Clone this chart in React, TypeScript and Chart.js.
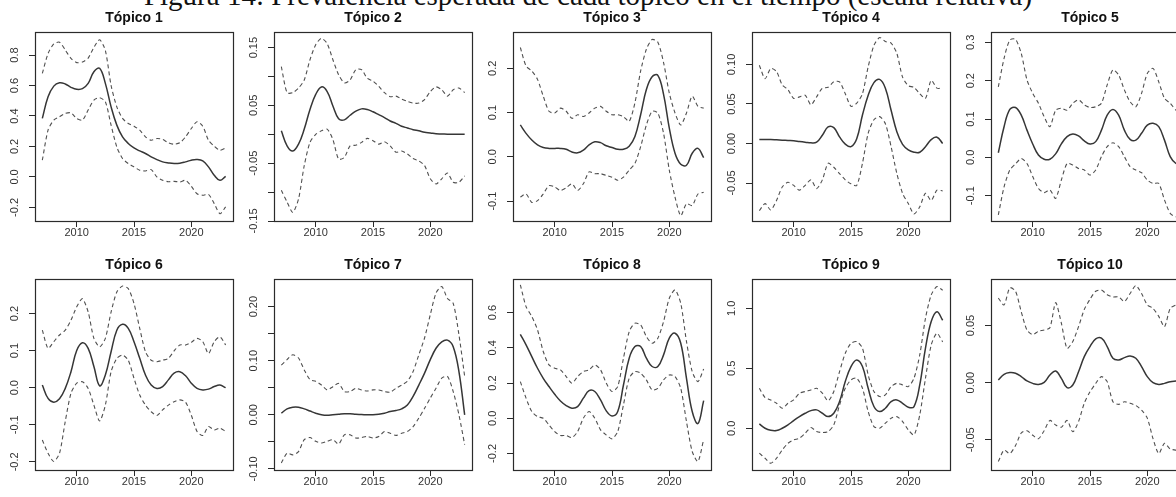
import React, { useEffect, useRef } from "react";
import { Chart, registerables } from "chart.js";

Chart.register(...registerables);

// Time grid shared by every topic (half-year steps)
const years = [
  2007, 2007.5, 2008, 2008.5, 2009, 2009.5, 2010, 2010.5, 2011, 2011.5, 2012,
  2012.5, 2013, 2013.5, 2014, 2014.5, 2015, 2015.5, 2016, 2016.5, 2017, 2017.5,
  2018, 2018.5, 2019, 2019.5, 2020, 2020.5, 2021, 2021.5, 2022, 2022.5, 2023,
];

// Expected prevalence (mean) and 95% interval per topic
const topic1Mean = [0.384, 0.526, 0.596, 0.618, 0.61, 0.588, 0.575, 0.579, 0.614, 0.69, 0.713, 0.614, 0.46, 0.34, 0.263, 0.22, 0.19, 0.171, 0.154, 0.132, 0.114, 0.099, 0.092, 0.088, 0.09, 0.099, 0.11, 0.114, 0.105, 0.066, 0.011, -0.022, 0.004];
const topic1Upper = [0.68, 0.81, 0.873, 0.884, 0.833, 0.778, 0.75, 0.754, 0.78, 0.85, 0.9, 0.83, 0.6, 0.46, 0.384, 0.351, 0.333, 0.307, 0.263, 0.241, 0.252, 0.246, 0.224, 0.215, 0.224, 0.263, 0.318, 0.362, 0.333, 0.241, 0.202, 0.175, 0.19];
const topic1Lower = [0.11, 0.307, 0.373, 0.395, 0.417, 0.421, 0.384, 0.373, 0.439, 0.504, 0.52, 0.493, 0.34, 0.197, 0.121, 0.088, 0.066, 0.044, 0.039, 0.048, 0.0, -0.022, -0.031, -0.029, -0.033, -0.022, -0.061, -0.11, -0.12, -0.114, -0.175, -0.241, -0.197];

const topic2Mean = [0.006, -0.02, -0.029, -0.017, 0.009, 0.043, 0.069, 0.082, 0.074, 0.049, 0.027, 0.025, 0.033, 0.04, 0.044, 0.043, 0.039, 0.034, 0.029, 0.023, 0.019, 0.014, 0.011, 0.008, 0.006, 0.0034, 0.0023, 0.001, 0.0006, 0.0, 0.0, 0.0, 0.0];
const topic2Upper = [0.117, 0.072, 0.072, 0.08, 0.094, 0.129, 0.155, 0.166, 0.157, 0.129, 0.103, 0.089, 0.094, 0.112, 0.112, 0.097, 0.092, 0.083, 0.072, 0.065, 0.066, 0.061, 0.057, 0.054, 0.054, 0.06, 0.074, 0.082, 0.077, 0.066, 0.077, 0.08, 0.072];
const topic2Lower = [-0.097, -0.117, -0.135, -0.112, -0.054, -0.014, 0.0, 0.006, 0.009, -0.009, -0.043, -0.04, -0.02, -0.019, -0.014, -0.007, -0.011, -0.017, -0.013, -0.02, -0.031, -0.029, -0.034, -0.042, -0.046, -0.054, -0.077, -0.086, -0.077, -0.067, -0.083, -0.083, -0.072];

const topic3Mean = [0.072, 0.053, 0.038, 0.027, 0.021, 0.019, 0.019, 0.019, 0.017, 0.011, 0.009, 0.015, 0.027, 0.034, 0.032, 0.025, 0.021, 0.017, 0.017, 0.024, 0.046, 0.095, 0.152, 0.181, 0.184, 0.141, 0.065, 0.008, -0.017, -0.019, 0.008, 0.019, -0.002];
const topic3Upper = [0.247, 0.205, 0.194, 0.175, 0.137, 0.103, 0.099, 0.11, 0.103, 0.087, 0.095, 0.091, 0.099, 0.11, 0.114, 0.103, 0.095, 0.095, 0.091, 0.08, 0.122, 0.194, 0.243, 0.265, 0.259, 0.213, 0.144, 0.099, 0.072, 0.099, 0.137, 0.114, 0.11];
const topic3Lower = [-0.091, -0.084, -0.103, -0.099, -0.084, -0.065, -0.068, -0.076, -0.07, -0.061, -0.076, -0.061, -0.034, -0.038, -0.038, -0.042, -0.046, -0.053, -0.046, -0.03, -0.015, 0.023, 0.072, 0.103, 0.099, 0.053, -0.03, -0.091, -0.133, -0.106, -0.11, -0.084, -0.08];

const topic4Mean = [0.005, 0.005, 0.005, 0.0046, 0.0042, 0.0038, 0.0034, 0.0025, 0.0017, 0.0008, 0.0017, 0.0105, 0.021, 0.02, 0.0084, -0.0008, -0.004, 0.006, 0.036, 0.061, 0.077, 0.081, 0.07, 0.042, 0.015, -0.001, -0.008, -0.011, -0.011, -0.004, 0.005, 0.008, 0.0];
const topic4Upper = [0.099, 0.082, 0.095, 0.091, 0.074, 0.068, 0.057, 0.059, 0.061, 0.049, 0.059, 0.07, 0.071, 0.078, 0.078, 0.063, 0.047, 0.051, 0.063, 0.097, 0.124, 0.134, 0.129, 0.127, 0.114, 0.084, 0.073, 0.071, 0.063, 0.057, 0.08, 0.07, 0.07];
const topic4Lower = [-0.085, -0.076, -0.084, -0.072, -0.055, -0.049, -0.053, -0.059, -0.053, -0.046, -0.057, -0.046, -0.025, -0.03, -0.038, -0.046, -0.051, -0.053, -0.025, 0.013, 0.03, 0.034, 0.025, -0.004, -0.038, -0.063, -0.076, -0.089, -0.08, -0.063, -0.072, -0.059, -0.06];

const topic5Mean = [0.012, 0.08, 0.125, 0.13, 0.11, 0.071, 0.035, 0.006, -0.005, -0.005, 0.009, 0.035, 0.054, 0.061, 0.056, 0.043, 0.035, 0.041, 0.071, 0.11, 0.125, 0.11, 0.071, 0.047, 0.045, 0.063, 0.084, 0.089, 0.08, 0.045, 0.002, -0.016, -0.02];
const topic5Upper = [0.184, 0.258, 0.306, 0.308, 0.271, 0.202, 0.167, 0.141, 0.106, 0.08, 0.123, 0.128, 0.123, 0.141, 0.15, 0.137, 0.13, 0.132, 0.141, 0.189, 0.228, 0.215, 0.176, 0.145, 0.132, 0.167, 0.219, 0.232, 0.197, 0.154, 0.141, 0.123, 0.11];
const topic5Lower = [-0.15, -0.077, -0.033, -0.017, -0.003, -0.016, -0.05, -0.081, -0.092, -0.085, -0.107, -0.059, -0.016, -0.02, -0.029, -0.033, -0.046, -0.033, 0.002, 0.028, 0.038, 0.028, 0.002, -0.024, -0.033, -0.04, -0.059, -0.068, -0.068, -0.111, -0.146, -0.155, -0.15];

const topic6Mean = [0.007, -0.029, -0.039, -0.03, -0.002, 0.043, 0.1, 0.121, 0.106, 0.057, 0.005, 0.034, 0.097, 0.155, 0.171, 0.16, 0.124, 0.079, 0.034, 0.007, -0.002, 0.003, 0.021, 0.039, 0.043, 0.032, 0.012, -0.002, -0.006, -0.004, 0.003, 0.007, 0.0];
const topic6Upper = [0.155, 0.106, 0.124, 0.142, 0.155, 0.182, 0.218, 0.24, 0.204, 0.133, 0.11, 0.133, 0.204, 0.258, 0.274, 0.267, 0.227, 0.16, 0.097, 0.074, 0.07, 0.074, 0.079, 0.099, 0.115, 0.115, 0.122, 0.133, 0.124, 0.092, 0.124, 0.137, 0.115];
const topic6Lower = [-0.141, -0.177, -0.199, -0.177, -0.091, -0.015, 0.012, 0.016, -0.002, -0.047, -0.09, -0.047, 0.043, 0.079, 0.088, 0.074, 0.025, -0.02, -0.047, -0.065, -0.075, -0.06, -0.047, -0.038, -0.033, -0.039, -0.074, -0.118, -0.129, -0.105, -0.114, -0.109, -0.118];

const topic7Mean = [0.003, 0.011, 0.014, 0.014, 0.011, 0.007, 0.003, 0.0, -0.001, 0.0, 0.001, 0.002, 0.002, 0.001, 0.0006, 0.0, 0.0, 0.001, 0.003, 0.006, 0.008, 0.011, 0.018, 0.034, 0.055, 0.077, 0.102, 0.123, 0.135, 0.138, 0.126, 0.08, 0.0];
const topic7Upper = [0.092, 0.102, 0.111, 0.105, 0.083, 0.065, 0.062, 0.055, 0.046, 0.052, 0.058, 0.043, 0.043, 0.049, 0.046, 0.044, 0.046, 0.046, 0.043, 0.042, 0.049, 0.055, 0.062, 0.08, 0.111, 0.142, 0.185, 0.225, 0.237, 0.215, 0.206, 0.148, 0.071];
const topic7Lower = [-0.089, -0.071, -0.074, -0.068, -0.046, -0.042, -0.049, -0.052, -0.049, -0.046, -0.054, -0.037, -0.037, -0.043, -0.042, -0.04, -0.043, -0.04, -0.031, -0.034, -0.038, -0.034, -0.031, -0.022, -0.006, 0.012, 0.031, 0.049, 0.068, 0.071, 0.043, 0.0, -0.055];

const topic8Mean = [0.477, 0.417, 0.35, 0.284, 0.227, 0.18, 0.136, 0.098, 0.072, 0.057, 0.066, 0.114, 0.157, 0.152, 0.104, 0.042, 0.013, 0.038, 0.189, 0.341, 0.407, 0.407, 0.341, 0.294, 0.294, 0.36, 0.455, 0.483, 0.426, 0.227, 0.038, -0.03, 0.1];
const topic8Upper = [0.758, 0.634, 0.578, 0.502, 0.379, 0.303, 0.284, 0.275, 0.237, 0.199, 0.237, 0.265, 0.275, 0.303, 0.275, 0.199, 0.152, 0.18, 0.341, 0.492, 0.54, 0.53, 0.464, 0.426, 0.455, 0.549, 0.682, 0.729, 0.653, 0.436, 0.265, 0.208, 0.28];
const topic8Lower = [0.208, 0.114, 0.038, 0.009, 0.0, -0.038, -0.076, -0.098, -0.098, -0.11, -0.076, 0.0, 0.038, 0.0, -0.066, -0.095, -0.117, -0.076, 0.076, 0.227, 0.265, 0.256, 0.218, 0.161, 0.17, 0.218, 0.246, 0.237, 0.17, -0.019, -0.189, -0.246, -0.12];

const topic9Mean = [0.036, 0.0, -0.017, -0.019, 0.0, 0.028, 0.064, 0.097, 0.125, 0.147, 0.153, 0.125, 0.097, 0.125, 0.222, 0.389, 0.514, 0.569, 0.514, 0.333, 0.181, 0.139, 0.167, 0.222, 0.236, 0.208, 0.175, 0.181, 0.361, 0.667, 0.889, 0.972, 0.9];
const topic9Upper = [0.333, 0.256, 0.236, 0.208, 0.167, 0.208, 0.236, 0.292, 0.306, 0.319, 0.333, 0.292, 0.228, 0.306, 0.472, 0.625, 0.708, 0.722, 0.667, 0.444, 0.306, 0.264, 0.278, 0.347, 0.375, 0.361, 0.347, 0.417, 0.611, 0.917, 1.111, 1.181, 1.15];
const topic9Lower = [-0.208, -0.25, -0.292, -0.25, -0.181, -0.125, -0.097, -0.083, -0.042, 0.006, -0.028, -0.036, -0.028, 0.028, 0.194, 0.333, 0.403, 0.417, 0.333, 0.139, 0.014, 0.0, 0.042, 0.083, 0.097, 0.056, -0.014, -0.056, 0.111, 0.417, 0.694, 0.792, 0.72];

const topic10Mean = [0.0023, 0.0073, 0.0088, 0.0082, 0.0053, 0.0015, -0.0006, -0.0015, 0.0003, 0.0067, 0.0102, 0.0038, -0.0044, -0.002, 0.0096, 0.0228, 0.0316, 0.0383, 0.0389, 0.0316, 0.0213, 0.0199, 0.0219, 0.0234, 0.0213, 0.014, 0.0053, 0.0, -0.0015, -0.0006, 0.0009, 0.0015, 0.002];
const topic10Upper = [0.074, 0.068, 0.083, 0.08, 0.062, 0.046, 0.042, 0.045, 0.046, 0.048, 0.07, 0.052, 0.03, 0.036, 0.049, 0.064, 0.073, 0.08, 0.081, 0.077, 0.075, 0.075, 0.071, 0.078, 0.085, 0.078, 0.068, 0.065, 0.058, 0.049, 0.065, 0.068, 0.07];
const topic10Lower = [-0.069, -0.059, -0.062, -0.055, -0.044, -0.042, -0.046, -0.049, -0.042, -0.033, -0.037, -0.039, -0.033, -0.043, -0.034, -0.018, -0.008, -0.0006, 0.0053, 0.0009, -0.0167, -0.019, -0.0167, -0.018, -0.02, -0.024, -0.031, -0.049, -0.062, -0.053, -0.058, -0.059, -0.06];

// Axis ranges and ticks
const topicTitles = ["Tópico 1", "Tópico 2", "Tópico 3", "Tópico 4", "Tópico 5", "Tópico 6", "Tópico 7", "Tópico 8", "Tópico 9", "Tópico 10"];
const xRange = [2006.36, 2023.64];
const xTicks = [2010, 2015, 2020];
const yMins = [-0.289, -0.15, -0.145, -0.098, -0.166, -0.222, -0.102, -0.294, -0.348, -0.0764];
const yMaxs = [0.951, 0.177, 0.282, 0.141, 0.327, 0.293, 0.251, 0.791, 1.244, 0.0907];

const yTicks1 = [-0.2, 0, 0.2, 0.4, 0.6, 0.8];
const yLabels1 = ["-0.2", "0.0", "0.2", "0.4", "0.6", "0.8"];
const yTicks2 = [-0.15, -0.1, -0.05, 0, 0.05, 0.1, 0.15];
const yLabels2 = ["-0.15", "", "-0.05", "", "0.05", "", "0.15"];
const yTicks3 = [-0.1, 0, 0.1, 0.2];
const yLabels3 = ["-0.1", "0.0", "0.1", "0.2"];
const yTicks4 = [-0.05, 0, 0.05, 0.1];
const yLabels4 = ["-0.05", "0.00", "0.05", "0.10"];
const yTicks5 = [-0.1, 0, 0.1, 0.2, 0.3];
const yLabels5 = ["-0.1", "0.0", "0.1", "0.2", "0.3"];
const yTicks6 = [-0.2, -0.1, 0, 0.1, 0.2];
const yLabels6 = ["-0.2", "-0.1", "0.0", "0.1", "0.2"];
const yTicks7 = [-0.1, -0.05, 0, 0.05, 0.1, 0.15, 0.2];
const yLabels7 = ["-0.10", "", "0.00", "", "0.10", "", "0.20"];
const yTicks8 = [-0.2, 0, 0.2, 0.4, 0.6];
const yLabels8 = ["-0.2", "0.0", "0.2", "0.4", "0.6"];
const yTicks9 = [0, 0.5, 1.0];
const yLabels9 = ["0.0", "0.5", "1.0"];
const yTicks10 = [-0.05, 0, 0.05];
const yLabels10 = ["-0.05", "0.00", "0.05"];

const meanSeries = [topic1Mean, topic2Mean, topic3Mean, topic4Mean, topic5Mean, topic6Mean, topic7Mean, topic8Mean, topic9Mean, topic10Mean];
const upperSeries = [topic1Upper, topic2Upper, topic3Upper, topic4Upper, topic5Upper, topic6Upper, topic7Upper, topic8Upper, topic9Upper, topic10Upper];
const lowerSeries = [topic1Lower, topic2Lower, topic3Lower, topic4Lower, topic5Lower, topic6Lower, topic7Lower, topic8Lower, topic9Lower, topic10Lower];
const yTickSets = [yTicks1, yTicks2, yTicks3, yTicks4, yTicks5, yTicks6, yTicks7, yTicks8, yTicks9, yTicks10];
const yLabelSets = [yLabels1, yLabels2, yLabels3, yLabels4, yLabels5, yLabels6, yLabels7, yLabels8, yLabels9, yLabels10];

const FONT = '"Liberation Sans", Arial, Helvetica, sans-serif';
const INK = "#2b2b2b";
const PANEL_W = 239;
const ROW_TOPS = [0, 248];
const ROW_HEIGHTS = [248, 249];
const TITLE_PADS = [
  { top: 9.6, bottom: 5.6 },
  { top: 9.1, bottom: 5.1 },
];
const Y_AXIS_W = 35;
const X_AXIS_H = 27;
const TICK_LEN = 6;
const Y_LABEL_OFFSET = 20;

// Closed frame around each plotting region
const frameBox = {
  id: "frameBox",
  afterDatasetsDraw(chart: any) {
    const { ctx, chartArea } = chart;
    const l = Math.round(chartArea.left) + 0.5;
    const t = Math.round(chartArea.top) + 0.5;
    const r = Math.round(chartArea.right) + 0.5;
    const b = Math.round(chartArea.bottom) + 0.5;
    ctx.save();
    ctx.strokeStyle = INK;
    ctx.lineWidth = 1.2;
    ctx.strokeRect(l, t, r - l, b - t);
    ctx.restore();
  },
};

const toPoints = (vals: number[]) => years.map((x, i) => ({ x, y: vals[i] }));

export default function App() {
  const refs = useRef<(HTMLCanvasElement | null)[]>([]);

  useEffect(() => {
    const measure = document.createElement("canvas").getContext("2d")!;
    measure.font = `11px ${FONT}`;
    const charts: Chart[] = [];

    topicTitles.forEach((title, i) => {
      const canvas = refs.current[i];
      if (!canvas) return;
      const row = i < 5 ? 0 : 1;
      const ticks = yTickSets[i];
      const labels = yLabelSets[i];
      const widest = Math.max(...labels.map((s) => measure.measureText(s).width));
      const yPad = Y_LABEL_OFFSET - TICK_LEN - widest / 2;

      const dashed = {
        borderColor: "#505050",
        borderWidth: 1.1,
        borderDash: [4, 3],
        pointRadius: 0,
        tension: 0.25,
        fill: false,
      };

      const chart = new Chart(canvas, {
        type: "line",
        data: {
          datasets: [
            { ...dashed, data: toPoints(upperSeries[i]) },
            { ...dashed, data: toPoints(lowerSeries[i]) },
            {
              data: toPoints(meanSeries[i]),
              borderColor: "#363636",
              borderWidth: 1.5,
              pointRadius: 0,
              tension: 0.4,
              fill: false,
            },
          ],
        },
        options: {
          animation: false,
          responsive: false,
          maintainAspectRatio: false,
          devicePixelRatio: 1,
          events: [],
          layout: { padding: { left: 0, right: PANEL_W - Y_AXIS_W - 198, top: 0, bottom: 0 } },
          plugins: {
            legend: { display: false },
            tooltip: { enabled: false },
            title: {
              display: true,
              text: title,
              fullSize: false,
              color: "#111",
              font: { family: FONT, size: 14, weight: "bold" },
              padding: TITLE_PADS[row],
            },
          },
          scales: {
            x: {
              type: "linear",
              min: xRange[0],
              max: xRange[1],
              afterBuildTicks: (s: any) => {
                s.ticks = xTicks.map((v) => ({ value: v }));
              },
              afterFit: (s: any) => {
                s.height = X_AXIS_H;
              },
              border: { display: false },
              grid: { drawOnChartArea: false, drawTicks: true, tickLength: TICK_LEN, color: INK, lineWidth: 1 },
              ticks: {
                autoSkip: false,
                minRotation: 0,
                maxRotation: 0,
                padding: 0.5,
                color: "#333",
                font: { family: FONT, size: 11, lineHeight: 1 },
                callback: (v: any) => String(v),
              },
            },
            y: {
              type: "linear",
              min: yMins[i],
              max: yMaxs[i],
              afterBuildTicks: (s: any) => {
                s.ticks = ticks.map((v) => ({ value: v }));
              },
              afterFit: (s: any) => {
                s.width = Y_AXIS_W;
              },
              border: { display: false },
              grid: { drawOnChartArea: false, drawTicks: true, tickLength: TICK_LEN, color: INK, lineWidth: 1 },
              ticks: {
                autoSkip: false,
                minRotation: 90,
                maxRotation: 90,
                crossAlign: "center",
                padding: yPad,
                color: "#333",
                font: { family: FONT, size: 11 },
                callback: (_v: any, idx: number) => labels[idx],
              },
            },
          },
        },
        plugins: [frameBox],
      } as any);
      charts.push(chart);
    });

    return () => charts.forEach((c) => c.destroy());
  }, []);

  return (
    <div
      style={{
        position: "absolute",
        left: 0,
        top: 0,
        width: 1176,
        height: 497,
        overflow: "hidden",
        background: "#fff",
      }}
    >
      <div
        style={{
          position: "absolute",
          left: 0,
          top: -19,
          width: 1176,
          textAlign: "center",
          fontFamily: '"Liberation Serif", "Times New Roman", serif',
          fontSize: 29,
          lineHeight: "29px",
          whiteSpace: "nowrap",
          color: "#111",
        }}
      >
        Figura 14: Prevalencia esperada de cada tópico en el tiempo (escala relativa)
      </div>
      {topicTitles.map((t, i) => {
        const row = i < 5 ? 0 : 1;
        const col = i % 5;
        return (
          <canvas
            key={t}
            ref={(el) => {
              refs.current[i] = el;
            }}
            width={PANEL_W}
            height={ROW_HEIGHTS[row]}
            style={{
              position: "absolute",
              left: col * PANEL_W,
              top: ROW_TOPS[row],
              width: PANEL_W,
              height: ROW_HEIGHTS[row],
            }}
          />
        );
      })}
    </div>
  );
}
